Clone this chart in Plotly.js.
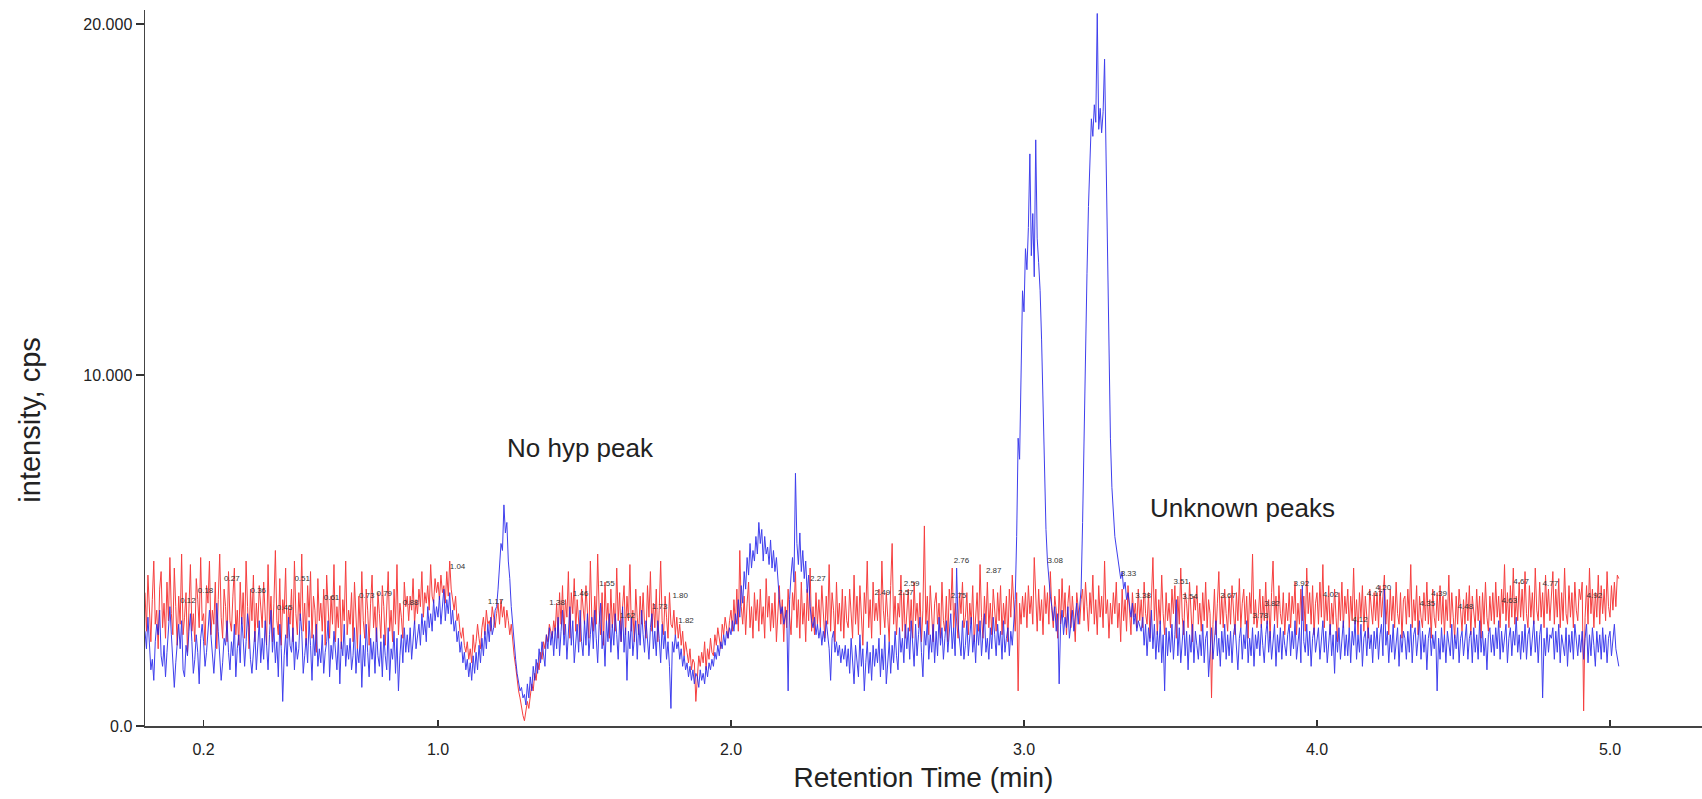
<!DOCTYPE html>
<html>
<head>
<meta charset="utf-8">
<script src="https://cdn.plot.ly/plotly-3.0.1.min.js"></script>
<style>
  html, body { margin: 0; padding: 0; background: #fff; }
  #chart { width: 1702px; height: 799px; }
</style>
</head>
<body>
<div id="chart"></div>
<script>
// Extracted ion chromatograms, intensity in cps, one scan every 0.005 min from 0.000 min
// (each row below holds 0.1 min of scans)
const SCAN_INTERVAL = 0.005;

const intensityRed = [
  3800,2700,4300,3100,2400,3600,4700,2900,3300,2200,3900,4400,2800,3500,2500,4100,3000,4800,3200,2600,
  4500,3400,2300,3700,2900,4900,2600,3100,3800,2100,3500,4600,2700,3200,2400,4200,3600,2800,4800,3000,
  3200,2300,4000,3500,4700,2600,3300,2900,4100,2200,3600,4900,3100,2500,3900,3400,2400,4400,3000,2700,
  3700,4500,2600,3300,2300,4100,2900,3800,2500,4700,3400,2200,3900,3000,4300,2400,3500,2800,4000,3200,
  2800,4100,3300,2300,4600,2900,3700,2400,3500,5000,3000,2600,4200,2300,3600,3200,4500,2500,3400,2900,
  3900,2400,4700,3200,2600,3800,3000,4900,2700,3500,2300,4000,3100,4400,2500,3700,3300,2100,4200,3000,
  3500,2700,3900,2300,4300,3300,2500,3700,2900,4600,2400,3400,2800,4000,2200,3600,3000,4700,2600,3300,
  2900,3800,2400,4100,3200,2200,3700,2600,4400,3000,2500,3900,3300,2300,3500,4300,2800,3400,2400,3800,
  3200,2500,4000,3400,2300,3700,4400,2700,3300,2400,3900,2900,4600,2600,3500,3100,2500,4100,3400,3700,
  3000,3700,3300,4200,2900,3600,3200,3900,3400,4400,3100,3800,3500,4000,3300,4600,3700,3500,4200,3800,
  4100,3600,4300,3800,4000,3500,4400,3700,4700,3900,3600,3300,3700,3000,3200,2700,2500,2800,2300,2100,
  2400,1900,2200,1800,2600,2100,2400,2900,2500,2200,2800,3100,2600,3300,2900,3000,2700,3400,3100,2800,
  3200,3500,2900,3600,3100,3400,2800,3300,3000,2600,2900,2400,2000,1700,1300,1000,800,500,300,150,
  400,700,500,900,1200,1000,1500,1300,1800,1600,2100,1900,2400,2200,2600,2400,2900,2700,2500,3000,
  2700,3500,2500,3800,2900,4000,2600,3600,3100,4400,2500,3800,3200,4200,2700,3600,3000,2400,3900,3300,
  2900,4000,3400,2500,4700,3100,2700,3700,2900,4900,3300,2600,3800,2300,4100,3000,3500,2500,3900,2800,
  3500,2700,4500,3000,3800,2400,3400,4000,2600,3700,3000,4600,2700,3300,2400,3900,3100,2600,3700,2900,
  3800,2900,2500,4000,3100,4400,2700,3500,2800,3900,2400,3300,4700,3000,2600,3700,3100,2500,3800,2900,
  2800,3300,2600,3100,2500,2900,2300,2700,2000,2400,2100,1800,2200,1600,1900,1800,700,1500,2000,1700,
  2100,1800,2400,1600,2200,1900,2500,2100,2000,2600,2300,2800,2400,2200,2900,2600,3100,2700,2500,3000,
  3300,2700,3600,2900,3900,2700,5000,3400,2900,3700,2600,3500,4100,2800,3400,2500,3800,3000,3600,2700,
  3900,2900,3400,2500,4200,3100,3700,2700,3500,2800,3800,2400,3200,4000,2900,3600,2400,3400,2800,3900,
  3100,2600,3800,3300,4400,2800,3600,2500,4100,2900,3500,2400,3900,3000,4500,2700,3400,2600,3800,2900,
  3600,2800,4000,3100,2500,3700,2900,4600,2700,3800,3300,2400,4100,2900,3500,2700,3900,2500,3700,3000,
  2800,3900,3300,2500,4300,2900,3700,2600,4000,3100,2300,3800,3200,4700,2800,3600,2500,4100,3000,3500,
  3000,3900,2600,4700,3300,2800,3800,3100,2400,4000,5200,2900,3700,2600,3500,3100,4300,2700,3800,2500,
  3400,3900,2700,3600,2500,4100,3000,3500,2800,3800,2400,3300,5700,2900,3700,2600,4000,3100,2400,3500,
  3800,2900,3500,2500,4100,3000,2700,3700,2400,3900,3300,4500,2800,3500,2900,2500,3800,3200,4100,2800,
  3100,3800,2600,3500,2900,4000,2400,3300,3800,2700,4600,3100,2500,3700,2900,4100,2800,3500,2600,3900,
  3400,2700,3800,3000,4000,2600,3500,2900,3700,2400,3900,3100,4300,3300,2700,3800,1000,3500,2900,3700,
  3100,3800,2800,4000,3200,3700,2900,4800,3500,2700,3900,3000,3600,2600,4000,3200,3800,2900,4400,3300,
  2800,3700,3300,2500,3900,2900,4200,3100,3800,2600,3500,4000,2800,3700,3100,2400,3800,3300,2900,3600,
  3900,3000,4100,3400,2700,3800,3200,4300,2900,3600,2600,4000,3100,3700,2800,4700,3200,3600,2500,3500,
  2900,3800,3200,4100,2800,3500,2400,3900,3000,3600,2700,4000,3300,2600,3800,3100,3500,2800,3900,3000,
  3600,2800,4100,3200,2900,3800,2500,3500,4800,3000,3900,2600,3600,2900,4300,3200,2600,3800,3000,3500,
  2800,3900,3200,4000,2500,3700,2900,4500,3100,2600,3800,3500,2800,4100,3000,2400,3700,3300,4000,2900,
  3500,2700,3800,3000,4100,2800,3600,3200,800,2900,3900,2600,3500,4400,2900,3700,2800,3900,3200,2700,
  3700,2900,4000,3200,2600,3800,3000,4200,2800,3500,3900,2900,3700,2500,3800,3200,4900,2900,3600,2800,
  3200,3900,2800,3700,3000,4100,2900,3600,2500,3800,4700,3000,3700,2800,4000,3200,2900,3800,2600,3500,
  3000,3800,2800,3700,3200,4100,2600,3500,2900,3900,3000,3700,2700,4500,3200,3800,2900,4000,2600,3500,
  3800,2900,4100,3100,4600,2800,3700,3000,4000,2600,3500,2900,3900,3100,2400,3800,3000,4100,2800,3700,
  3200,3900,2800,3700,3000,4500,2900,3600,2600,3800,3100,4000,2700,3700,3000,2500,3900,3300,2900,3800,
  3000,3800,2800,4000,3100,3700,4300,2900,3600,2600,3900,3000,3700,2800,4100,3200,2900,3800,2500,3600,
  3700,2900,3900,3100,4600,2800,3600,3000,4000,2600,3700,3100,2800,3800,3000,4100,2900,3600,2500,3900,
  3100,2800,3800,3000,4000,2900,3700,2600,3600,3000,4300,2800,3800,3100,2500,3700,2900,3900,3100,2700,
  3600,2900,3800,3000,4000,2600,3700,3100,2800,3900,3000,3700,2500,3800,2900,4100,3100,2700,3700,3000,
  3800,2900,4100,3100,3700,2800,3900,3200,4600,3000,3800,2800,4000,3100,4500,2900,3700,3000,4100,3100,
  3900,3000,4400,3200,2800,4000,3100,3800,2900,4500,3300,3000,4100,3100,3800,2800,4300,3200,3900,3000,
  3700,4400,2900,3900,3100,4200,2800,3800,3000,4500,3200,2900,4000,3100,3800,2800,4100,3300,3000,3900,
  3600,4100,430,3100,4000,2900,4500,3200,3900,2800,3800,3100,4300,2900,4000,3200,3900,3000,4400,3400,
  3100,4000,3300,4100,3400,4300,4200
];

const intensityBlue = [
  2700,2200,3100,2500,1600,1900,1300,2400,2900,2600,3300,2000,1700,2300,1400,2100,2800,3400,2600,1900,
  1100,1800,2500,2900,2200,3000,1600,1400,2300,2000,2700,3200,2400,1500,1900,2600,2100,1200,2500,2900,
  2400,1700,2100,2800,3300,2600,1900,1500,2200,3500,2700,2000,1300,1800,2500,2300,3000,2100,1600,2400,
  2000,2900,1400,2200,2600,1800,3100,2500,1700,2400,3200,2800,1900,1500,2300,2700,1600,2200,3000,1800,
  2500,1900,3000,2300,1600,2600,3300,2100,2800,1800,2400,1400,2900,2200,700,2000,2600,1700,3100,2300,
  2100,2800,1600,2400,1900,2200,3200,2700,1500,2000,2500,1800,3000,2300,1300,2600,2000,2900,1700,2200,
  1800,2600,1500,2100,2400,3000,1400,2300,1900,2700,2200,1600,2500,1200,2400,2000,2900,1700,2300,1900,
  2500,1600,2000,2800,1500,2200,1800,2600,1100,2300,1700,2900,2100,1400,2500,1900,2400,1500,2800,2000,
  1700,2400,1400,2600,2000,1600,2800,1300,2200,1900,2700,1500,2500,1000,2000,2600,1800,2800,2100,2600,
  2100,2800,1900,2600,3000,2200,2500,2900,2300,3200,2600,3000,2400,3400,2800,3200,2700,3600,3000,3400,
  3100,3700,2900,3500,3900,3000,3600,3200,3800,2900,3300,2700,3000,2400,2700,2100,2400,1800,2100,1600,
  1900,1400,1800,1300,2000,1500,2100,1600,2300,1800,2500,2000,2700,2200,2900,2400,3100,2600,2800,3300,
  3400,3900,4600,5200,5000,6300,5500,5800,4700,4200,3400,2800,2300,1900,1500,1200,1000,1100,800,900,
  600,1200,800,1400,1000,1700,1300,1900,1500,2200,1800,2400,2000,1700,2600,2200,2800,2300,2700,2000,
  2800,2200,3100,2000,2700,3300,2300,2900,1900,2600,3400,2300,3000,1800,2500,2900,2100,3300,2400,2000,
  3000,2300,3200,2000,2600,3100,2200,3300,2500,1800,2900,3500,2200,2700,1700,3000,2400,3200,2100,2900,
  2300,3200,2600,1900,3000,2400,3400,2100,2800,1300,2700,2200,3100,2000,2500,3000,1900,2900,2300,3300,
  2600,2100,3000,2400,1900,2800,3200,2200,2700,2000,3000,2500,1800,2900,2200,2700,1900,2400,1700,500,
  2400,2100,2600,2200,2400,1900,2200,1700,2000,1600,1800,1400,1700,1300,1600,1200,1500,1400,1100,1600,
  1300,1500,1200,1700,1400,1800,1600,1900,1700,2100,1900,2300,2000,2400,2200,2600,2300,2700,2500,2800,
  2600,3000,2700,3200,2900,3600,3100,4000,3500,4400,3900,4800,4300,5200,4500,5000,4700,5400,4900,5800,
  5200,5600,4700,5400,4900,5100,4600,5300,4500,5000,4400,4800,4100,3600,3200,3400,2900,3100,3300,1000,
  3600,4300,4800,4100,7200,5200,4600,5500,4400,5000,4200,4700,3800,4300,3400,3000,2800,3100,2600,2900,
  2500,2800,2300,2700,2400,3000,2600,2200,1300,2500,2700,2100,2400,2000,2300,1800,2200,1900,2300,1700,
  2200,1500,2500,1800,1200,2300,1900,1400,2600,1700,2200,1000,1800,2400,1500,2100,1300,2300,1700,2200,
  1800,2500,1400,2200,1600,2600,1200,2000,2400,1500,2300,1800,2700,2000,1600,2800,2100,2500,1800,2900,
  2200,2800,1900,3000,2300,1700,2900,2000,2600,3100,2100,1400,2700,2300,3000,1900,2600,2100,2900,1800,
  2700,2000,3100,2300,2800,1900,2500,3000,2100,2700,3200,2200,2800,2000,4500,2900,2300,2000,3000,1900,
  2300,3000,2000,2700,3100,2100,2600,1800,2900,2300,3000,2000,2700,3200,2100,2500,1900,2800,2200,3100,
  2600,2000,2900,2300,2700,1900,3000,2100,2500,2800,2000,2700,2300,3000,3600,5400,8200,7600,10800,12400,
  11800,13600,13000,14200,16300,13400,14600,12800,16700,13900,13200,12400,11000,9200,7400,5600,4700,4100,3700,3400,
  3000,3400,2700,3200,1200,2900,3300,2600,3100,2800,3400,2500,3000,3300,2700,3100,3500,2900,3300,3900,
  5800,8500,10700,12900,14800,16200,17300,16800,17700,17200,20300,17000,17600,16900,17500,19000,16500,13500,10500,8200,
  6800,6000,5400,5100,4800,4500,4200,4400,3900,4100,3600,3800,3400,3100,3500,2900,3200,2700,3000,2800,
  2700,3100,2300,2900,2000,2800,2400,3300,2200,2900,1900,2700,2100,3000,1800,2600,1000,2800,2000,2700,
  2100,2900,1900,2600,3600,2000,2800,1800,2500,3000,2000,2700,1600,2600,2100,2900,1800,2700,2300,1900,
  2600,2000,2900,1800,2500,2700,1400,2200,2800,1900,2600,3000,2000,2500,1700,2700,2100,2900,1900,2600,
  2000,2700,1800,2600,2900,2100,1600,2500,2800,1900,2600,2200,3000,1800,2500,2000,2800,1700,2600,2200,
  2700,2000,2900,2300,1800,2600,3000,2100,2700,1900,2500,2900,1700,2600,2100,2800,1900,2700,2300,2000,
  2600,2900,2000,2700,2200,3000,1900,2500,2800,1800,4000,2400,2100,2900,2000,2700,1700,2500,2800,2100,
  2500,2800,1900,2600,3000,2100,2700,1800,2500,2900,2000,2600,1500,2700,2100,2800,1900,2500,3000,2000,
  2600,2000,2800,1800,2700,2300,3000,1900,2600,2100,2900,1700,2500,2700,2000,2800,2200,2600,1800,2700,
  2200,2800,1900,2600,2900,2000,3900,2300,2700,1800,2600,2100,2900,1900,2500,2800,1700,2600,2100,2700,
  2500,1900,2700,2100,2900,1800,2600,2800,2000,2500,3000,1900,2700,2100,2600,1600,2500,2800,2000,2600,
  2200,2700,1000,2500,1900,2800,2100,2600,1800,2700,2300,2000,2900,1900,2600,2200,2800,1800,2500,2700,
  2000,2600,2900,1900,2500,2700,1800,2800,2100,2600,1900,3000,2100,2700,2000,2500,1600,2600,2800,2100,
  2600,2000,2800,2200,3000,1900,2700,2100,2600,2900,1800,2500,2800,2000,2700,2300,3100,2100,2600,1900,
  2700,2100,2900,1900,2600,2800,2000,2500,3000,2100,2700,1800,2600,2900,800,2500,2000,2800,2100,2600,
  2500,2800,1900,2700,2100,2900,1800,2600,2300,2000,2800,1700,2600,2100,2700,1900,2900,2300,2000,2600,
  2100,2700,1900,2500,2900,1800,2600,2000,2800,2300,1700,2700,2100,2600,1900,2800,2100,2600,1800,2500,
  2700,2000,2600,2900,2200,2000,1700
];

// Retention times printed above the integrated peaks, with the height they sit at
const peakLabelTimes   = [0.12,0.18,0.27,0.36,0.45,0.51,0.61,0.73,0.79,0.88,1.04,1.17,1.38,1.46,1.55,1.62,1.73,1.80,1.82,
                          2.27,2.49,2.57,2.59,2.75,2.76,2.87,3.08,3.33,3.38,3.51,3.54,3.67,3.78,3.82,3.92,4.02,4.12,4.17,4.20,
                          4.35,4.39,4.48,4.63,4.67,4.77,4.92];
const peakLabelHeights = [3560,3850,4190,3850,3350,4190,3650,3700,3750,3500,4530,3530,3500,3760,4050,3130,3390,3700,2990,
                          4190,3790,3790,4050,3700,4700,4420,4700,4330,3700,4100,3670,3700,3130,3480,4050,3730,3020,3760,3930,
                          3480,3760,3390,3560,4100,4050,3700];

const yTickValues = [0, 10000, 20000];
const yTickLabels = ['0.0', '10.000', '20.000'];
const xTickValues = [0.2, 1.0, 2.0, 3.0, 4.0, 5.0];

const scanTimes = arr => arr.map((_, i) => Math.round(i * SCAN_INTERVAL * 1000) / 1000);

const FONT = 'Liberation Sans, Arial, Helvetica, sans-serif';

const traces = [
  {
    x: scanTimes(intensityRed), y: intensityRed, type: 'scatter', mode: 'lines',
    line: { color: 'rgb(245,30,30)', width: 1 }, opacity: 0.85, name: 'red', hoverinfo: 'skip'
  },
  {
    x: scanTimes(intensityBlue), y: intensityBlue, type: 'scatter', mode: 'lines',
    line: { color: 'rgb(30,30,235)', width: 1 }, opacity: 0.85, name: 'blue', hoverinfo: 'skip'
  },
  {
    x: peakLabelTimes, y: peakLabelHeights, type: 'scatter', mode: 'text',
    text: peakLabelTimes.map(v => v.toFixed(2)), textposition: 'middle right',
    textfont: { family: FONT, size: 8, color: '#333' }, hoverinfo: 'skip', cliponaxis: false
  }
];

const layout = {
  width: 1702, height: 799,
  margin: { l: 145, r: 0, t: 10, b: 73 },
  paper_bgcolor: '#fff', plot_bgcolor: '#fff',
  showlegend: false,
  font: { family: FONT, color: '#222' },
  xaxis: {
    range: [0, 5.314],
    tickvals: xTickValues, tickformat: '.1f',
    ticks: 'inside', ticklen: 6, tickwidth: 1.5, tickcolor: '#333',
    showline: true, linecolor: '#444', linewidth: 1.5,
    showgrid: false, zeroline: false,
    tickfont: { family: FONT, size: 16, color: '#222' },
    ticklabelstandoff: 8,
    title: { text: 'Retention Time (min)', font: { family: FONT, size: 28, color: '#222' }, standoff: 10 }
  },
  yaxis: {
    range: [0, 20400],
    tickvals: yTickValues, ticktext: yTickLabels,
    ticks: 'outside', ticklen: 8, tickwidth: 1.5, tickcolor: '#333',
    showline: true, linecolor: '#444', linewidth: 1.5,
    showgrid: false, zeroline: false,
    tickfont: { family: FONT, size: 16, color: '#222' }
  },
  annotations: [
    { text: 'intensity, cps', xref: 'paper', yref: 'y', x: 0, y: 8700, xshift: -115,
      xanchor: 'center', yanchor: 'middle',
      textangle: -90, showarrow: false, font: { family: FONT, size: 29, color: '#222' } },
    { text: 'No hyp peak', xref: 'x', yref: 'y', x: 1.488, y: 7920, showarrow: false,
      font: { family: FONT, size: 26, color: '#222' } },
    { text: 'Unknown peaks', xref: 'x', yref: 'y', x: 3.747, y: 6210, showarrow: false,
      font: { family: FONT, size: 26, color: '#222' } }
  ]
};

Plotly.newPlot('chart', traces, layout, { displayModeBar: false, staticPlot: true });
</script>
</body>
</html>
